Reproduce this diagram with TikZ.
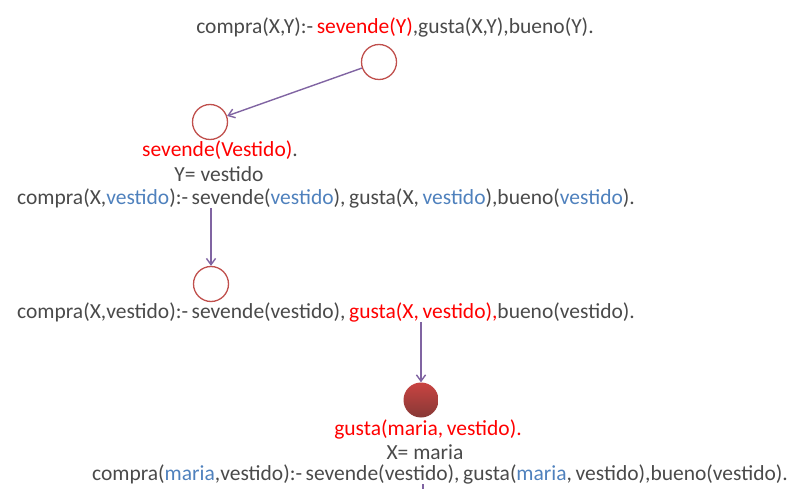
\documentclass[tikz,border=0pt]{standalone}
\usepackage{fontspec}
\setmainfont{Carlito}
\usetikzlibrary{arrows.meta,positioning}
\definecolor{txtgray}{HTML}{4A4A4A}
\definecolor{hlred}{HTML}{FF0000}
\definecolor{varblue}{HTML}{4F81BD}
\definecolor{ringred}{HTML}{C0504D}
\definecolor{flowpurple}{HTML}{8064A2}

\begin{document}
\begin{tikzpicture}[x=1pt,y=-1pt,
goal/.style={inner sep=0pt,text=txtgray,font=\fontsize{21.5}{24}\selectfont},
ring/.style={circle,draw=ringred,line width=1.3pt,minimum size=35pt,inner sep=0pt},
solved/.style={circle,minimum size=35pt,inner sep=0pt,top color=ringred!85!red,bottom color=ringred!70!black},
flow/.style={-{Straight Barb[length=2.2mm,width=3.2mm]},draw=flowpurple,line width=1.4pt}]
\useasboundingbox (0,0) rectangle (811,489);
\node[goal] (rule) at (395,27) {compra(X,Y):-\,\textcolor{hlred}{sevende(Y)},gusta(X,Y),bueno(Y).};
\node[ring] (r1) at (379,62) {};
\node[ring] (r2) at (210,122) {};
\node[goal] (fact1) at (220,150) {\textcolor{hlred}{sevende(Vestido)}.};
\node[goal] (bind1) at (219,174) {Y= vestido};
\node[goal] (sub1) at (326,198) {compra(X,\textcolor{varblue}{vestido}):-\,sevende(\textcolor{varblue}{vestido}),\,gusta(X,\,\textcolor{varblue}{vestido}),bueno(\textcolor{varblue}{vestido}).};
\node[ring] (r3) at (211,284) {};
\node[goal] (sub2) at (326,312) {compra(X,vestido):-\,sevende(vestido),\,\textcolor{hlred}{gusta(X,\,vestido),}bueno(vestido).};
\node[solved] (hit) at (421,400) {};
\node[goal] (fact2) at (428,429) {\textcolor{hlred}{gusta(maria,\,vestido).}};
\node[goal] (bind2) at (425,452) {X= maria};
\node[goal] (sol) at (440,474) {compra(\textcolor{varblue}{maria},vestido):-\,sevende(vestido),\,gusta(\textcolor{varblue}{maria},\,vestido),bueno(vestido).};
\coordinate (tail) at (423,484);
\coordinate (edge) at (423,489);
\draw[flow] (r1) -- (r2);
\draw[flow] (sub1.south -| r3) -- (r3);
\draw[flow] (sub2.south -| hit) -- (hit);
\draw[flowpurple,line width=1.4pt] (tail) -- (edge);
\end{tikzpicture}
\end{document}
